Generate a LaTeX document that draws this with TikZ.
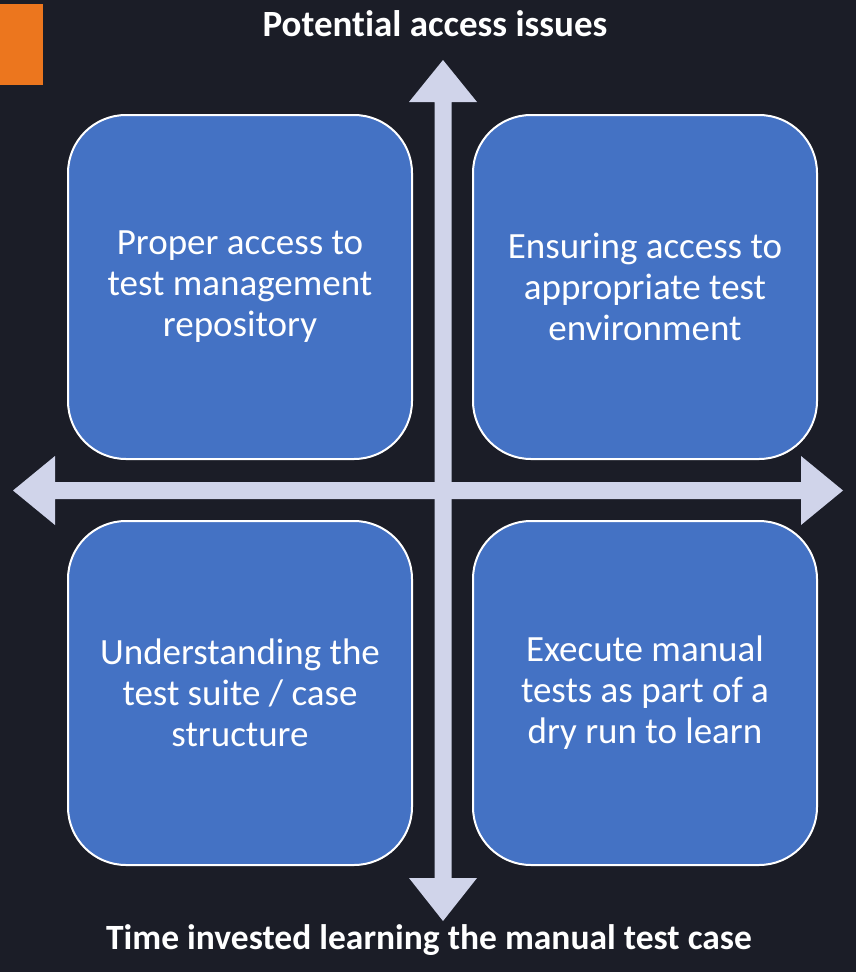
\documentclass[tikz,border=0pt]{standalone}
\usepackage{fontspec}
\setmainfont[Ligatures=CommonOff]{Carlito}
\definecolor{bg}{RGB}{27,29,39}
\definecolor{orng}{RGB}{236,118,30}
\definecolor{arr}{RGB}{208,212,234}
\definecolor{boxc}{RGB}{68,114,196}
\begin{document}
\begin{tikzpicture}[x=1pt,y=-1pt,
  quad/.style={draw=white,line width=2pt,fill=boxc,rounded corners=58pt,minimum width=344pt,minimum height=344pt,inner sep=0pt,text=white,align=center,font=\fontsize{37}{41}\selectfont},
  axlabel/.style={text=white,font=\bfseries\fontsize{35.5}{40}\selectfont,inner sep=0pt}]
\fill[bg] (0,0) rectangle (856,972);
\useasboundingbox (0,0) rectangle (856,972);
\fill[orng] (0,4) rectangle (43,85);
\node[quad] (tl) at (240,287) {Proper access to\\test management\\repository};
\node[quad] (tr) at (645,287) {Ensuring access to\\appropriate test\\environment};
\node[quad] (bl) at (240,693) {Understanding the\\test suite / case\\structure};
\node[quad] (br) at (645,693) {Execute manual\\tests as part of a\\dry run to learn};
% vertical arrow
\coordinate (vt) at (443,60);
\coordinate (vb) at (443,921);
\fill[arr] (vt) -- (477,102) -- (451.5,102) -- (451.5,878) -- (477,878) -- (vb) -- (409,878) -- (434.5,878) -- (434.5,102) -- (409,102) -- cycle;
% horizontal arrow
\coordinate (hl) at (13,490.5);
\coordinate (hr) at (843,490.5);
\fill[arr] (hl) -- (55,456) -- (55,482) -- (801,482) -- (801,456) -- (hr) -- (801,525) -- (801,499) -- (55,499) -- (55,525) -- cycle;
\node[axlabel,font=\bfseries\fontsize{37}{40}\selectfont] (top) at (435,24) {Potential access issues};
\node[axlabel] (bot) at (429,940) {Time invested learning the manual test case};
\end{tikzpicture}
\end{document}
